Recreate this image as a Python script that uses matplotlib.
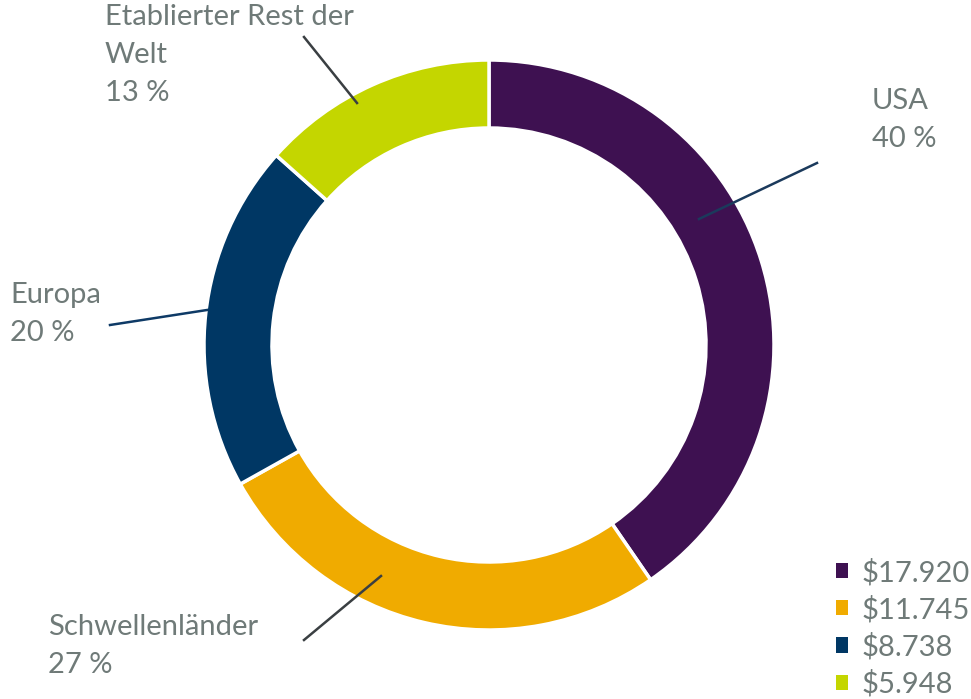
import matplotlib
matplotlib.use("Agg")
import matplotlib.pyplot as plt

# --- Data ---
regions = ["USA", "Schwellenländer", "Europa", "Etablierter Rest der\nWelt"]
values = [17920, 11745, 8738, 5948]
pct_labels = [40, 27, 20, 13]   # as printed on the chart
value_labels = ["$17.920", "$11.745", "$8.738", "$5.948"]
colors = ["#3E1151", "#F0AB00", "#003764", "#C4D600"]
line_colors = ["#1B3A5C", "#3A3F42", "#0E3A66", "#3A3F42"]

TEXT_COLOR = "#6F7A78"
W, H = 971, 699
plt.rcParams["font.family"] = ["Lato", "DejaVu Sans"]

fig = plt.figure(figsize=(W / 100, H / 100), dpi=100)
ax = fig.add_axes([0, 0, 1, 1])

cx, cy = 489, H - 345
wedges, _ = ax.pie(values, colors=colors, startangle=90, counterclock=False,
                   radius=285, center=(cx, cy), frame=True,
                   wedgeprops=dict(width=68, edgecolor="white", linewidth=2.5))
ax.set_xlim(0, W)
ax.set_ylim(0, H)
ax.set_aspect("equal")
ax.axis("off")

# leader lines (ring point -> label point), image pixels
leaders = [((699, 219), (817, 163)),
           ((381, 576), (304, 640)),
           ((207, 310), (110, 325)),
           ((357, 103), (304, 37))]
for (p0, p1), lc in zip(leaders, line_colors):
    ax.plot([p0[0], p1[0]], [H - p0[1], H - p1[1]], color=lc, lw=1.8)

# labels (left, top), image pixels
label_pos = [(872, 88), (48, 614), (10, 282), (105, 4)]
for name, p, (lx, ly) in zip(regions, pct_labels, label_pos):
    ax.text(lx, H - ly, f"{name}\n{p} %", ha="left", va="top",
            fontsize=21, color=TEXT_COLOR, linespacing=1.58)

leg = ax.legend(wedges, value_labels, loc="lower right",
                bbox_to_anchor=(1.0, 0.0), frameon=False,
                fontsize=21, handlelength=0.42, handleheight=0.42,
                handletextpad=0.45, labelspacing=0.33, borderpad=0.0,
                borderaxespad=0.05)
for t in leg.get_texts():
    t.set_color(TEXT_COLOR)
for h in leg.legend_handles:
    h.set_edgecolor("none")

fig.savefig("out.png", dpi=100)
